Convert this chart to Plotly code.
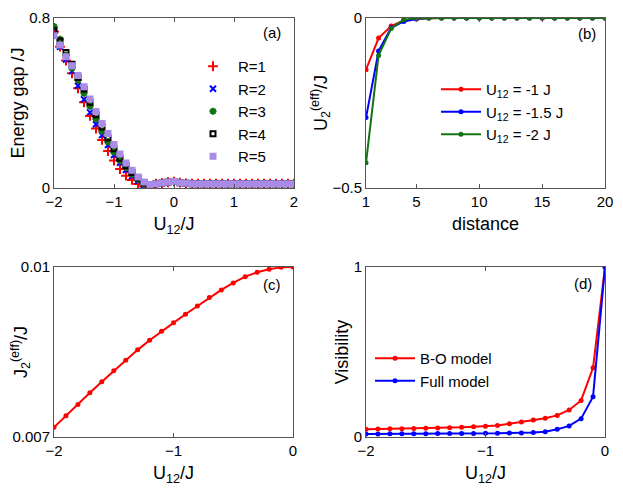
import plotly.graph_objects as go

# ---- panel (a): energy gap vs U12 for different R ----
u12_a = [round(-2 + 0.1 * i, 1) for i in range(41)]
tail = [0.02, 0.023, 0.027, 0.03, 0.025, 0.022] + [0.02] * 18
gap_r1 = [0.735, 0.665, 0.600, 0.540, 0.469, 0.403, 0.339, 0.280, 0.226, 0.174,
          0.129, 0.089, 0.058, 0.038, 0.019, 0.008, 0.005] + tail
gap_r2 = [0.748, 0.665, 0.605, 0.550, 0.481, 0.417, 0.356, 0.300, 0.249, 0.202,
          0.155, 0.119, 0.085, 0.056, 0.033, 0.014, 0.008] + tail
gap_r3 = [0.760, 0.700, 0.625, 0.565, 0.508, 0.446, 0.385, 0.325, 0.268, 0.218,
          0.170, 0.130, 0.097, 0.066, 0.040, 0.020, 0.012] + tail
gap_r4 = [0.740, 0.692, 0.638, 0.582, 0.520, 0.466, 0.403, 0.345, 0.287, 0.235,
          0.185, 0.140, 0.105, 0.073, 0.047, 0.025, 0.015] + tail
gap_r5 = [0.717, 0.673, 0.618, 0.575, 0.529, 0.477, 0.419, 0.360, 0.304, 0.257,
          0.205, 0.160, 0.118, 0.083, 0.052, 0.028, 0.017] + tail

# ---- panel (b): U2(eff) vs distance ----
distance = list(range(1, 21))
u2_m1 = [-0.152, -0.059, -0.0235, -0.007, -0.002] + [0.0] * 15
u2_m15 = [-0.293, -0.097, -0.029, -0.010, -0.003] + [0.0] * 15
u2_m2 = [-0.426, -0.110, -0.031, -0.005, -0.001] + [0.0] * 15

# ---- panel (c): J2(eff) vs U12 ----
u12_c = [round(-2 + 0.1 * i, 1) for i in range(21)]
j2_eff = [0.00717, 0.007376, 0.007575, 0.007781, 0.007975, 0.008168, 0.008356,
          0.008538, 0.008708, 0.008867, 0.009014, 0.009166, 0.009313, 0.00946,
          0.009595, 0.009718, 0.00983, 0.009906, 0.009959, 0.009994, 0.01]

# ---- panel (d): visibility ----
vis_bo = [0.046, 0.047, 0.048, 0.049, 0.050, 0.052, 0.053, 0.055, 0.057, 0.060,
          0.063, 0.068, 0.078, 0.088, 0.100, 0.110, 0.127, 0.159, 0.215, 0.407, 1.0]
vis_full = [0.018, 0.018, 0.019, 0.019, 0.019, 0.019, 0.020, 0.020, 0.020, 0.021,
            0.0215, 0.0215, 0.0235, 0.0235, 0.027, 0.031, 0.045, 0.065, 0.108, 0.237, 1.0]

FONT = "Liberation Sans"
AX = "#555555"

fig = go.Figure()

# (a)
series_a = [
    ("R=1", gap_r1, "#ff0000", "cross-thin-open", 7),
    ("R=2", gap_r2, "#0000ff", "x-thin-open", 6),
    ("R=3", gap_r3, "#137313", "asterisk-open", 6),
    ("R=4", gap_r4, "#000000", "square-open", 5),
    ("R=5", gap_r5, "#a98be8", "square", 5),
]
for name, vals, col, sym, sz in series_a:
    fig.add_trace(go.Scatter(
        x=u12_a, y=vals, mode="markers", name=name,
        marker=dict(symbol=sym, size=sz, color=col, line=dict(color=col, width=2)),
        xaxis="x", yaxis="y", legend="legend"))

# (b)
for name, vals, col in [("U<sub>12</sub> = -1 J", u2_m1, "#ff0000"),
                        ("U<sub>12</sub> = -1.5 J", u2_m15, "#0000ff"),
                        ("U<sub>12</sub> = -2 J", u2_m2, "#137313")]:
    fig.add_trace(go.Scatter(
        x=distance, y=vals, mode="lines+markers", name=name,
        line=dict(color=col, width=2), marker=dict(color=col, size=5),
        xaxis="x2", yaxis="y2", legend="legend2"))

# (c)
fig.add_trace(go.Scatter(
    x=u12_c, y=j2_eff, mode="lines+markers", showlegend=False,
    line=dict(color="#ff0000", width=2), marker=dict(color="#ff0000", size=5),
    xaxis="x3", yaxis="y3"))

# (d)
for name, vals, col in [("B-O model", vis_bo, "#ff0000"),
                        ("Full model", vis_full, "#0000ff")]:
    fig.add_trace(go.Scatter(
        x=u12_c, y=vals, mode="lines+markers", name=name,
        line=dict(color=col, width=2), marker=dict(color=col, size=5),
        xaxis="x4", yaxis="y4", legend="legend3"))

# page has an 8px body margin, so the figure starts at (8, 8)
OFF = 8
W, H = 623 - OFF, 498 - OFF


def px_x(a, b):
    return [(a - OFF) / W, (b - OFF) / W]


def px_y(top, bottom):
    return [1 - (bottom - OFF) / H, 1 - (top - OFF) / H]


def axis(dom, rng, tickvals, title, anchor, standoff):
    return dict(domain=dom, range=rng, tickvals=tickvals, anchor=anchor,
                showgrid=False, zeroline=False, showline=True, mirror="ticks",
                linecolor=AX, linewidth=1, ticks="inside", ticklen=4, tickcolor=AX,
                title=dict(text=title, standoff=standoff), automargin=False)


def leg(x, top):
    return dict(x=(x - OFF) / W, y=1 - (top - OFF) / H, xanchor="left", yanchor="top",
                bgcolor="rgba(0,0,0,0)", font=dict(size=15), tracegroupgap=0,
                itemwidth=40)


fig.update_layout(
    width=W, height=H,
    margin=dict(l=0, r=0, t=0, b=0),
    plot_bgcolor="white", paper_bgcolor="white",
    font=dict(family=FONT, size=15, color="black"),
    xaxis=axis(px_x(54, 294), [-2, 2], [-2, -1, 0, 1, 2], "U<sub>12</sub>/J", "y", 8),
    yaxis=axis(px_y(18, 188), [0, 0.8], [0, 0.8], "Energy gap /J", "x", 6),
    xaxis2=axis(px_x(366, 605), [1, 20], [1, 5, 10, 15, 20], "distance", "y2", 8),
    yaxis2=axis(px_y(18, 188), [-0.5, 0], [-0.5, 0], "U<sub>2</sub><sup>(eff)</sup>/J", "x2", 0),
    xaxis3=axis(px_x(54, 293), [-2, 0], [-2, -1, 0], "U<sub>12</sub>/J", "y3", 8),
    yaxis3=axis(px_y(267, 437), [0.007, 0.01], [0.007, 0.01], "J<sub>2</sub><sup>(eff)</sup>/J", "x3", 4),
    xaxis4=axis(px_x(366, 605), [-2, 0], [-2, -1, 0], "U<sub>12</sub>/J", "y4", 8),
    yaxis4=axis(px_y(267, 437), [0, 1], [0, 1], "Visibility", "x4", 0),
    legend=leg(188, 50),
    legend2=leg(436, 73),
    legend3=leg(370, 342),
    showlegend=True,
)

for txt, xr, yc in [("(a)", 283, 33), ("(b)", 598, 34), ("(c)", 283, 284), ("(d)", 594, 283)]:
    fig.add_annotation(text=txt, x=(xr - OFF) / W, y=1 - (yc - OFF) / H,
                       xref="paper", yref="paper",
                       xanchor="right", yanchor="middle", showarrow=False,
                       font=dict(size=15))

fig.write_html("out.html")
